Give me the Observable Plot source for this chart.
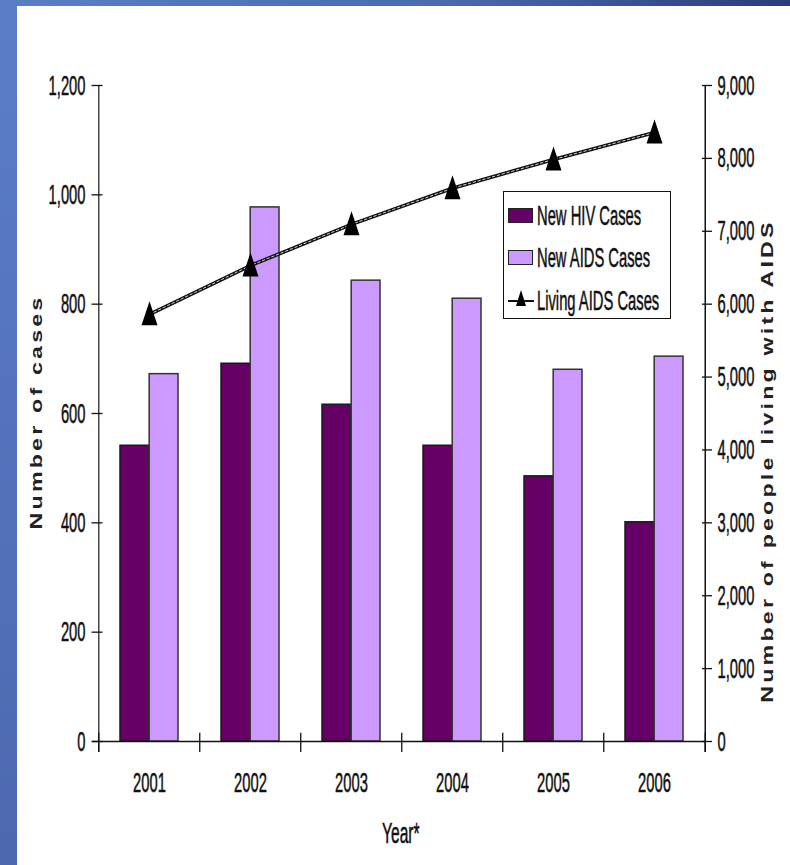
<!DOCTYPE html>
<html><head><meta charset="utf-8">
<script src="https://cdn.jsdelivr.net/npm/d3@7"></script>
<script src="https://cdn.jsdelivr.net/npm/@observablehq/plot@0.6"></script>
<style>
html,body{margin:0;padding:0;background:#fff}
body{width:790px;height:865px;position:relative;overflow:hidden;font-family:"Liberation Sans",Arial,sans-serif}
#leftband{position:absolute;left:0;top:0;width:17px;height:865px;background:linear-gradient(#5b7dc8,#4d68af)}
#topband{position:absolute;left:0;top:0;width:790px;height:6px;background:linear-gradient(90deg,#5b7dc8,#4d6ab2 55%,#2b3c7e)}
#chart{position:absolute;left:17px;top:6px}
.narrow{font-family:"Liberation Sans",Arial,sans-serif;font-size:18px;color:#111;white-space:nowrap;-webkit-text-stroke:0.35px #111}
.lbl{position:absolute;display:inline-block;transform-origin:0 50%;transform:translateY(-50%) scale(0.82,1.55)}
.title{position:absolute;font-family:"Liberation Sans",Arial,sans-serif;font-weight:bold;font-size:16px;color:#222;white-space:nowrap;letter-spacing:2.2px;transform-origin:center center;transform:translate(-50%,-50%) rotate(-90deg) scaleX(1.45)}
#legend{position:absolute;left:503px;top:191px;width:166px;height:126px;border:1.5px solid #111;background:#fff}
.sw{position:absolute;width:23px;height:13px;border:1.5px solid #222}
</style></head>
<body>
<div id="leftband"></div><div id="topband"></div>
<div id="chart"></div>
<div class="title" style="left:37px;top:412px">Number of cases</div>
<div class="title" style="left:768px;top:461px">Number of people living with AIDS</div>
<div class="narrow lbl" id="xlabel" style="left:382px;top:834px;font-size:19px">Year*</div>
<div id="legend"></div>
<script>
const years = ["2001", "2002", "2003", "2004", "2005", "2006"];
const newHIV = [541, 691, 616, 541, 485, 401];
const newAIDS = [672, 977, 843, 810, 680, 704];
const livingAIDS = [5860, 6530, 7095, 7590, 7985, 8355];
const leftTicks = [0, 200, 400, 600, 800, 1000, 1200];
const rightTicks = [0, 1000, 2000, 3000, 4000, 5000, 6000, 7000, 8000, 9000];
const seriesNames = ["New HIV Cases", "New AIDS Cases", "Living AIDS Cases"];
const colors = ["#660066", "#cc99ff", "#000000"];
const ratio = 9000 / 1200;
const comma = d3.format(",");

const data = years.map((y, i) => ({year: y, hiv: newHIV[i], aids: newAIDS[i], living: livingAIDS[i]}));

const W = 773, H = 859, mL = 80, mR = 84, mT = 79, mB = 124;
const step = (W - mL - mR) / years.length;
const pIn = 0.425;
const bw = step * (1 - pIn);

const tallTriangle = {draw(ctx) { ctx.moveTo(0, -13); ctx.lineTo(8, 11); ctx.lineTo(-8, 11); ctx.closePath(); }};

const chart = Plot.plot({
  width: W, height: H, marginLeft: mL, marginRight: mR, marginTop: mT, marginBottom: mB,
  style: {fontFamily: "Liberation Sans, Arial, sans-serif", fontSize: "18px", color: "#111", background: "transparent", overflow: "visible"},
  x: {type: "band", domain: years, paddingInner: pIn, paddingOuter: pIn / 2, label: null},
  y: {domain: [0, 1200], label: null},
  marks: [
    Plot.barY(data, {x: "year", y: "hiv", fill: colors[0], stroke: "#1a1a1a", strokeWidth: 1.5, insetRight: bw / 2}),
    Plot.barY(data, {x: "year", y: "aids", fill: colors[1], stroke: "#333", strokeWidth: 1.5, insetLeft: bw / 2}),
    Plot.ruleY([0], {stroke: "#111", strokeWidth: 1.6, insetLeft: -5}),
    Plot.ruleX([years[0]], {x: d => d, dx: -step / 2, y1: -20, y2: 1200, stroke: "#444", strokeWidth: 1.5}),
    Plot.ruleX([years[years.length - 1]], {x: d => d, dx: step / 2, y1: -20, y2: 1200, stroke: "#111", strokeWidth: 1.5}),
    Plot.ruleX(years, {x: d => d, dx: -step / 2, y1: -20, y2: 15, stroke: "#111", strokeWidth: 1.3}),
    Plot.ruleX([years[years.length - 1]], {x: d => d, dx: step / 2, y1: -20, y2: 15, stroke: "#111", strokeWidth: 1.3}),
    Plot.axisY(leftTicks, {anchor: "left", tickSize: 11, dx: 5.5, tickFormat: () => "", label: null, stroke: "#111", strokeWidth: 1.3}),
    Plot.axisY(leftTicks, {anchor: "left", tickSize: 0, tickPadding: 12, tickFormat: comma, label: null}),
    Plot.axisY(rightTicks.map(v => v / ratio), {anchor: "right", tickSize: 10, dx: -5, tickFormat: () => "", label: null, stroke: "#111", strokeWidth: 1.3}),
    Plot.axisY(rightTicks.map(v => v / ratio), {anchor: "right", tickSize: 0, tickPadding: 11, tickFormat: d => comma(Math.round(d * ratio)), label: null}),
    Plot.axisX(years, {anchor: "bottom", tickSize: 0, tickPadding: 34, label: null}),
    Plot.line(data, {x: "year", y: d => d.living / ratio, stroke: "#111", strokeWidth: 3.6}),
    Plot.line(data, {x: "year", y: d => d.living / ratio, stroke: "#d8d8d8", strokeWidth: 1, strokeDasharray: "2.5,2.5"}),
    Plot.dot(data, {x: "year", y: d => d.living / ratio, symbol: tallTriangle, fill: colors[2], stroke: "none"})
  ]
});

document.getElementById("chart").appendChild(chart);

// narrow & tall tick labels (like the reference's condensed, vertically stretched type):
// scale each label about its anchor point horizontally and its centre vertically
chart.querySelectorAll('g[aria-label$="tick label"] text').forEach(t => {
  const b = t.getBBox();
  const anchor = getComputedStyle(t).textAnchor;
  const ax = anchor === "end" ? b.x + b.width : anchor === "start" ? b.x : b.x + b.width / 2;
  const cy = b.y + b.height / 2;
  const tr = t.getAttribute("transform") || "";
  t.setAttribute("transform", `${tr} translate(${ax},${cy}) scale(0.82,1.55) translate(${-ax},${-cy})`);
  t.setAttribute("stroke", "#111");
  t.setAttribute("stroke-width", "0.35");
});

// legend
const lg = document.getElementById("legend");
const rowY = [24, 66, 109];
seriesNames.forEach((name, i) => {
  if (i < 2) {
    const s = document.createElement("div");
    s.className = "sw";
    s.style.left = "4px"; s.style.top = (rowY[i] - 8) + "px"; s.style.background = colors[i];
    lg.appendChild(s);
  } else {
    const ns = "http://www.w3.org/2000/svg";
    const svg = document.createElementNS(ns, "svg");
    svg.setAttribute("width", 28); svg.setAttribute("height", 22);
    svg.style.position = "absolute"; svg.style.left = "4px"; svg.style.top = (rowY[i] - 12) + "px";
    svg.innerHTML = '<line x1="0" y1="12" x2="26" y2="12" stroke="#111" stroke-width="2"/><path d="M13,1 L18,17 L8,17 Z" fill="#000"/>';
    lg.appendChild(svg);
  }
  const t = document.createElement("div");
  t.className = "narrow lbl";
  t.style.left = "33px"; t.style.top = rowY[i] + "px";
  t.textContent = name;
  lg.appendChild(t);
});
</script>
</body></html>
